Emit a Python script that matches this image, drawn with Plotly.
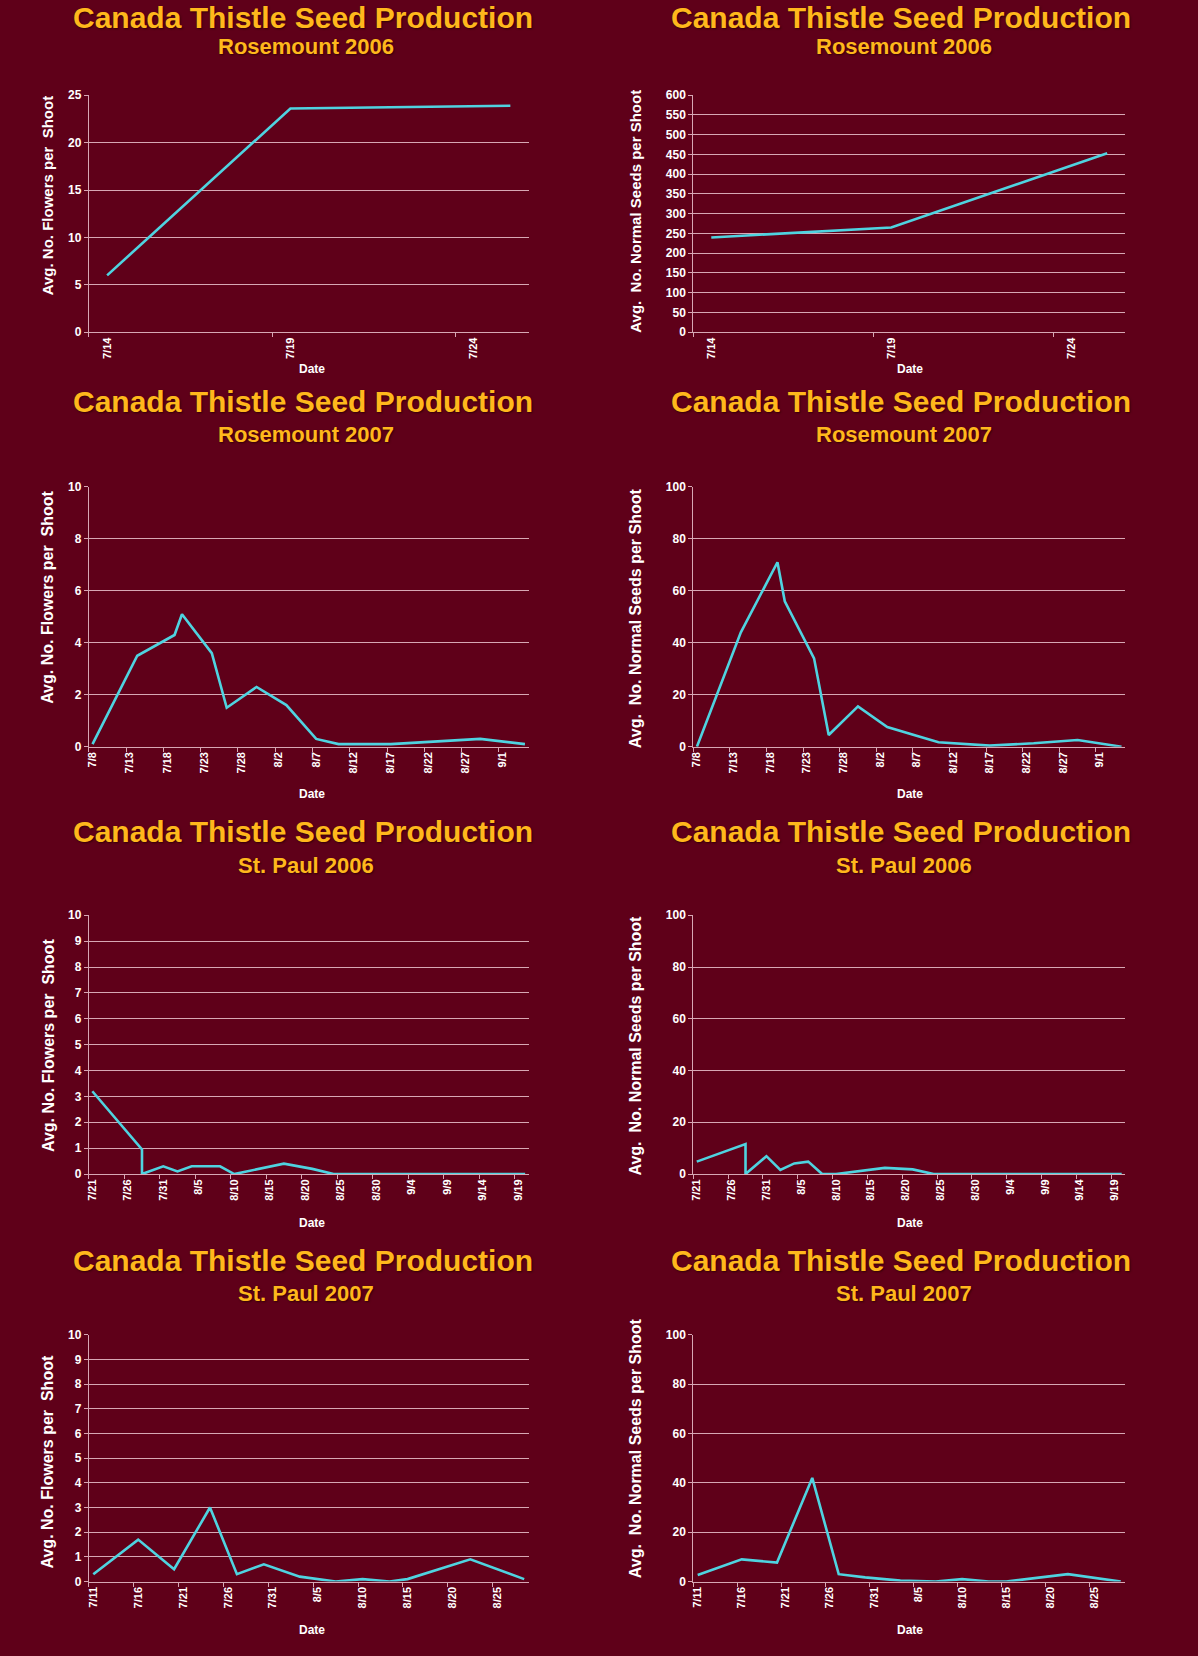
import plotly.graph_objects as go
from datetime import datetime, timedelta

W, H = 1198, 1656
BG = "#5f0019"
GRID = "rgba(236,196,208,0.85)"
GOLD = "#ffb81c"
LINE = "#4fd3e0"
FONT = "Liberation Sans"

# ---------------- data ----------------
rm06_dates = ["2006-07-14", "2006-07-19", "2006-07-25"]
rm06_flowers = [6.0, 23.6, 23.9]
rm06_seeds = [240, 265, 453]

rm07_dates = ["2007-07-08", "2007-07-14", "2007-07-19", "2007-07-20", "2007-07-24",
              "2007-07-26", "2007-07-30", "2007-08-03", "2007-08-07", "2007-08-10",
              "2007-08-17", "2007-08-23", "2007-08-29", "2007-09-04"]
rm07_flowers = [0.1, 3.5, 4.3, 5.1, 3.6, 1.5, 2.3, 1.6, 0.3, 0.1, 0.1, 0.2, 0.3, 0.1]
rm07_seeds = [0, 44, 71, 56, 34, 4.5, 15.5, 7.6, 4.2, 1.7, 0.4, 1.3, 2.6, 0]

sp06_dates = ["2006-07-21", "2006-07-28", "2006-07-28", "2006-07-31", "2006-08-02",
              "2006-08-04", "2006-08-06", "2006-08-08", "2006-08-10", "2006-08-17",
              "2006-08-21", "2006-08-24", "2006-08-31", "2006-09-07", "2006-09-14",
              "2006-09-20"]
sp06_flowers = [3.2, 0.95, 0, 0.3, 0.1, 0.3, 0.3, 0.3, 0, 0.4, 0.2, 0, 0, 0, 0, 0]
sp06_seeds = [4.8, 11.6, 0, 6.9, 1.6, 4.1, 4.8, 0, 0, 2.4, 1.8, 0, 0, 0, 0, 0]

sp07_dates = ["2007-07-11", "2007-07-16", "2007-07-20", "2007-07-24", "2007-07-27",
              "2007-07-30", "2007-08-03", "2007-08-07", "2007-08-10", "2007-08-13",
              "2007-08-15", "2007-08-22", "2007-08-28"]
sp07_flowers = [0.3, 1.7, 0.5, 3.0, 0.3, 0.7, 0.2, 0.0, 0.1, 0.0, 0.1, 0.9, 0.1]
sp07_seeds = [2.7, 9.0, 7.7, 42, 3.0, 1.7, 0.4, 0.0, 1.0, 0.0, 0.0, 3.0, 0.0]

ticks_rm06 = ["2006-07-14", "2006-07-19", "2006-07-24"]
ticks_rm07 = ["2007-07-08", "2007-07-13", "2007-07-18", "2007-07-23", "2007-07-28",
              "2007-08-02", "2007-08-07", "2007-08-12", "2007-08-17", "2007-08-22",
              "2007-08-27", "2007-09-01"]
ticks_sp06 = ["2006-07-21", "2006-07-26", "2006-07-31", "2006-08-05", "2006-08-10",
              "2006-08-15", "2006-08-20", "2006-08-25", "2006-08-30", "2006-09-04",
              "2006-09-09", "2006-09-14", "2006-09-19"]
ticks_sp07 = ["2007-07-11", "2007-07-16", "2007-07-21", "2007-07-26", "2007-07-31",
              "2007-08-05", "2007-08-10", "2007-08-15", "2007-08-20", "2007-08-25"]

TITLE = "Canada Thistle Seed Production"
YT_FLW = "Avg. No. Flowers per\u00a0 Shoot"
YT_SEED = "Avg.\u00a0 No. Normal Seeds per Shoot"

panels = [
    dict(d=rm06_dates, v=rm06_flowers, t=ticks_rm06, ymax=25, dt=5, yt=YT_FLW, sub="Rosemount 2006"),
    dict(d=rm06_dates, v=rm06_seeds, t=ticks_rm06, ymax=600, dt=50, yt=YT_SEED, sub="Rosemount 2006"),
    dict(d=rm07_dates, v=rm07_flowers, t=ticks_rm07, ymax=10, dt=2, yt=YT_FLW, sub="Rosemount 2007"),
    dict(d=rm07_dates, v=rm07_seeds, t=ticks_rm07, ymax=100, dt=20, yt=YT_SEED, sub="Rosemount 2007"),
    dict(d=sp06_dates, v=sp06_flowers, t=ticks_sp06, ymax=10, dt=1, yt=YT_FLW, sub="St. Paul 2006"),
    dict(d=sp06_dates, v=sp06_seeds, t=ticks_sp06, ymax=100, dt=20, yt=YT_SEED, sub="St. Paul 2006"),
    dict(d=sp07_dates, v=sp07_flowers, t=ticks_sp07, ymax=10, dt=1, yt=YT_FLW, sub="St. Paul 2007"),
    dict(d=sp07_dates, v=sp07_seeds, t=ticks_sp07, ymax=100, dt=20, yt=YT_SEED, sub="St. Paul 2007"),
]

# ---------------- layout geometry (pixels) ----------------
col_x = [(86, 527), (692, 1125)]
row_y = [(89, 328), (484, 746), (916, 1177), (1339, 1588)]
title_y = [(11, 40), (398, 431), (832, 866), (1264, 1297)]
title_x = [(301, 304), (900, 903)]
ytitle_x = [45, 634]
ytitle_y = [(190, 206), (595, 616), (1047, 1047), (1467, 1453)]
ytitle_size = [15, 16, 16, 16]
date_y = [365, 794, 1226, 1637]
date_x = [310, 909]


def fx(px):
    return px / W


def fy(py):
    return 1 - py / H


def dt(s):
    return datetime.strptime(s[:10], "%Y-%m-%d")


fig = go.Figure()
annotations = []
layout_axes = {}

for i, p in enumerate(panels):
    r, c = divmod(i, 2)
    n = i + 1
    xa = "x" if n == 1 else f"x{n}"
    ya = "y" if n == 1 else f"y{n}"
    fig.add_trace(go.Scatter(
        x=p["d"], y=p["v"], mode="lines", xaxis=xa, yaxis=ya,
        line=dict(color=LINE, width=2.6), showlegend=False, hoverinfo="x+y"))

    x0, x1 = col_x[c]
    y0, y1 = row_y[r]
    dmin = dt(p["d"][0]) - timedelta(hours=12)
    dmax = dt(p["d"][-1]) + timedelta(hours=12)
    minor_vals = [(dt(t) - timedelta(hours=12)).strftime("%Y-%m-%d %H:%M") for t in p["t"]]
    ticktext = [f"{dt(t).month}/{dt(t).day}" for t in p["t"]]

    layout_axes["xaxis" if n == 1 else f"xaxis{n}"] = dict(
        domain=[fx(x0), fx(x1)], anchor=ya, type="date",
        range=[dmin.strftime("%Y-%m-%d %H:%M"), dmax.strftime("%Y-%m-%d %H:%M")],
        tickmode="array", tickvals=p["t"], ticktext=ticktext, tickangle=-90,
        ticks="", showgrid=False, zeroline=False,
        showline=True, linecolor=GRID, linewidth=1,
        tickfont=dict(family=FONT, size=11, color="white", weight="bold"),
        minor=dict(tickmode="array", tickvals=minor_vals, ticks="outside",
                   ticklen=4, tickcolor=GRID, tickwidth=1, showgrid=False),
        fixedrange=True,
    )
    layout_axes["yaxis" if n == 1 else f"yaxis{n}"] = dict(
        domain=[fy(y1), fy(y0)], anchor=xa, range=[0, p["ymax"]],
        dtick=p["dt"], tick0=0, showgrid=True, gridcolor=GRID, gridwidth=1,
        zeroline=False, showline=True, linecolor=GRID, linewidth=1,
        ticks="outside", ticklen=4, tickcolor=GRID,
        tickfont=dict(family=FONT, size=12, color="white", weight="bold"),
        fixedrange=True,
    )

    # titles
    annotations.append(dict(
        text=TITLE, x=fx(title_x[c][0]), y=fy(title_y[r][0]), xref="paper", yref="paper",
        xanchor="center", yanchor="middle", showarrow=False,
        font=dict(family=FONT, size=30, color=GOLD, weight="bold",
                  shadow="1px 1px 2px rgba(40,0,0,0.8)")))
    annotations.append(dict(
        text=p["sub"], x=fx(title_x[c][1]), y=fy(title_y[r][1]), xref="paper", yref="paper",
        xanchor="center", yanchor="middle", showarrow=False,
        font=dict(family=FONT, size=22, color=GOLD, weight="bold",
                  shadow="1px 1px 2px rgba(40,0,0,0.8)")))
    # axis titles
    annotations.append(dict(
        text=p["yt"], x=fx(ytitle_x[c]), y=fy(ytitle_y[r][c]), xref="paper", yref="paper",
        xanchor="center", yanchor="middle", showarrow=False, textangle=-90,
        font=dict(family=FONT, size=ytitle_size[r], color="white", weight="bold")))
    annotations.append(dict(
        text="Date", x=fx(date_x[c]), y=fy(date_y[r]), xref="paper", yref="paper",
        xanchor="center", yanchor="middle", showarrow=False,
        font=dict(family=FONT, size=12, color="white", weight="bold")))

fig.update_layout(
    width=W, height=H, paper_bgcolor=BG, plot_bgcolor=BG,
    margin=dict(l=0, r=0, t=0, b=0), showlegend=False,
    annotations=annotations, **layout_axes)

fig.write_html("out.html", config={"displayModeBar": False},
               post_script="document.body.style.margin='0';document.body.style.background='" + BG + "';")
